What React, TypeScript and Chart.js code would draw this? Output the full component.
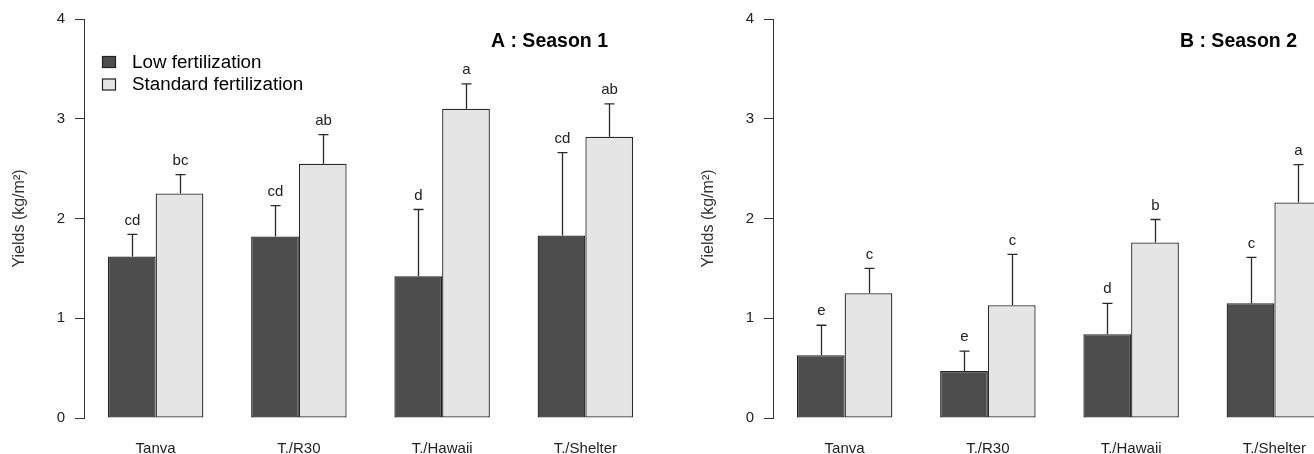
import React, { useEffect, useRef } from 'react';
import { Chart, registerables } from 'chart.js';

Chart.register(...registerables);

const categories = ['Tanva', 'T./R30', 'T./Hawaii', 'T./Shelter'];
const seriesNames = ['Low fertilization', 'Standard fertilization'];
const yTicks = [0, 1, 2, 3, 4];

// Season 1
const s1Low = [1.62, 1.82, 1.42, 1.83];
const s1LowErr = [0.22, 0.31, 0.67, 0.83];
const s1Std = [2.25, 2.55, 3.1, 2.82];
const s1StdErr = [0.19, 0.29, 0.25, 0.33];
const s1LowLetters = ['cd', 'cd', 'd', 'cd'];
const s1StdLetters = ['bc', 'ab', 'a', 'ab'];

// Season 2
const s2Low = [0.63, 0.47, 0.84, 1.15];
const s2LowErr = [0.3, 0.2, 0.31, 0.46];
const s2Std = [1.25, 1.13, 1.76, 2.16];
const s2StdErr = [0.25, 0.51, 0.23, 0.38];
const s2LowLetters = ['e', 'e', 'd', 'c'];
const s2StdLetters = ['c', 'c', 'b', 'a'];

const FONT = "'Liberation Sans', Arial, sans-serif";
const DARK = '#4d4d4d';
const LIGHT = '#e5e5e5';
const INK = '#222222';

type PanelProps = {
  title: string;
  low: number[];
  lowErr: number[];
  std: number[];
  stdErr: number[];
  lowLetters: string[];
  stdLetters: string[];
  showLegend: boolean;
};

function Panel(props: PanelProps) {
  const ref = useRef<HTMLCanvasElement | null>(null);
  useEffect(() => {
    if (!ref.current) return;
    const errs = [props.lowErr, props.stdErr];
    const letters = [props.lowLetters, props.stdLetters];
    const overlay = {
      id: 'overlay',
      afterDatasetsDraw(chart: any) {
        const ctx = chart.ctx;
        const y = chart.scales.y;
        const area = chart.chartArea;
        ctx.save();
        // error bars and letters
        chart.data.datasets.forEach((ds: any, di: number) => {
          const meta = chart.getDatasetMeta(di);
          meta.data.forEach((el: any, i: number) => {
            const v = ds.data[i];
            const top = y.getPixelForValue(v + errs[di][i]);
            const x = Math.round(el.x) + 0.5;
            ctx.strokeStyle = '#2a2a2a';
            ctx.lineWidth = 1.3;
            ctx.beginPath();
            ctx.moveTo(x, el.y);
            ctx.lineTo(x, top);
            ctx.moveTo(x - 5, top);
            ctx.lineTo(x + 5, top);
            ctx.stroke();
            ctx.fillStyle = INK;
            ctx.font = `15px ${FONT}`;
            ctx.textAlign = 'center';
            ctx.textBaseline = 'middle';
            ctx.fillText(letters[di][i], x, top - 14);
          });
        });
        // panel title
        ctx.fillStyle = '#000';
        ctx.font = `bold 19.5px ${FONT}`;
        ctx.textAlign = 'right';
        ctx.textBaseline = 'middle';
        ctx.fillText(props.title, area.right - 49, 42);
        // y axis title
        ctx.save();
        ctx.translate(20, (area.top + area.bottom) / 2);
        ctx.rotate(-Math.PI / 2);
        ctx.fillStyle = '#333';
        ctx.font = `16px ${FONT}`;
        ctx.textAlign = 'center';
        ctx.textBaseline = 'middle';
        ctx.fillText('Yields (kg/m\u00B2)', 0, 0);
        ctx.restore();
        // legend
        if (props.showLegend) {
          const colors = [DARK, LIGHT];
          chart.data.datasets.forEach((ds: any, di: number) => {
            const ly = 56 + di * 22.5;
            ctx.fillStyle = colors[di];
            ctx.fillRect(area.left + 18, ly, 14, 12);
            ctx.strokeStyle = '#222';
            ctx.lineWidth = 1.2;
            ctx.strokeRect(area.left + 18.5, ly + 0.5, 13, 11);
            ctx.fillStyle = '#000';
            ctx.font = `18.8px ${FONT}`;
            ctx.textAlign = 'left';
            ctx.textBaseline = 'middle';
            ctx.fillText(ds.label, area.left + 48, ly + 6.5);
          });
        }
        ctx.restore();
      },
    };
    const chart = new Chart(ref.current, {
      type: 'bar',
      data: {
        labels: categories,
        datasets: [
          {
            label: seriesNames[0],
            data: props.low,
            backgroundColor: DARK,
            borderColor: '#222',
            borderWidth: 1.3,
            borderSkipped: false,
          },
          {
            label: seriesNames[1],
            data: props.std,
            backgroundColor: LIGHT,
            borderColor: '#2a2a2a',
            borderWidth: 1.3,
            borderSkipped: false,
          },
        ],
      },
      options: {
        responsive: false,
        animation: false,
        layout: { padding: { left: 0, right: 32, top: 18, bottom: 0 } },
        datasets: { bar: { categoryPercentage: 2 / 3, barPercentage: 1 } },
        plugins: {
          legend: { display: false },
          tooltip: { enabled: false },
        },
        scales: {
          x: {
            type: 'category',
            offset: true,
            grid: { display: false, drawTicks: false },
            border: { display: false },
            ticks: {
              color: INK,
              font: { family: FONT, size: 15 },
              padding: 22,
              maxRotation: 0,
            },
            afterFit(scale: any) {
              scale.height = 36;
            },
          },
          y: {
            min: 0,
            max: 4,
            afterBuildTicks(scale: any) {
              scale.ticks = yTicks.map((v) => ({ value: v }));
            },
            grid: {
              drawOnChartArea: false,
              drawTicks: true,
              tickLength: 9,
              color: '#333',
              lineWidth: 1,
            },
            border: { display: true, color: '#333', width: 1 },
            ticks: {
              color: INK,
              font: { family: FONT, size: 15 },
              padding: 10,
            },
            afterFit(scale: any) {
              scale.width = 84;
            },
          },
        },
      },
      plugins: [overlay],
    });
    return () => chart.destroy();
  }, []);
  return <canvas ref={ref} width={689} height={454} style={{ display: 'block', width: 689, height: 454 }} />;
}

export default function App() {
  return (
    <div
      style={{
        position: 'fixed',
        left: 0,
        top: 0,
        width: 1314,
        height: 454,
        overflow: 'hidden',
        background: '#fff',
      }}
    >
      <div style={{ position: 'absolute', left: 0, top: 0 }}>
        <Panel
          title="A : Season 1"
          low={s1Low}
          lowErr={s1LowErr}
          std={s1Std}
          stdErr={s1StdErr}
          lowLetters={s1LowLetters}
          stdLetters={s1StdLetters}
          showLegend={true}
        />
      </div>
      <div style={{ position: 'absolute', left: 689, top: 0 }}>
        <Panel
          title="B : Season 2"
          low={s2Low}
          lowErr={s2LowErr}
          std={s2Std}
          stdErr={s2StdErr}
          lowLetters={s2LowLetters}
          stdLetters={s2StdLetters}
          showLegend={false}
        />
      </div>
    </div>
  );
}
